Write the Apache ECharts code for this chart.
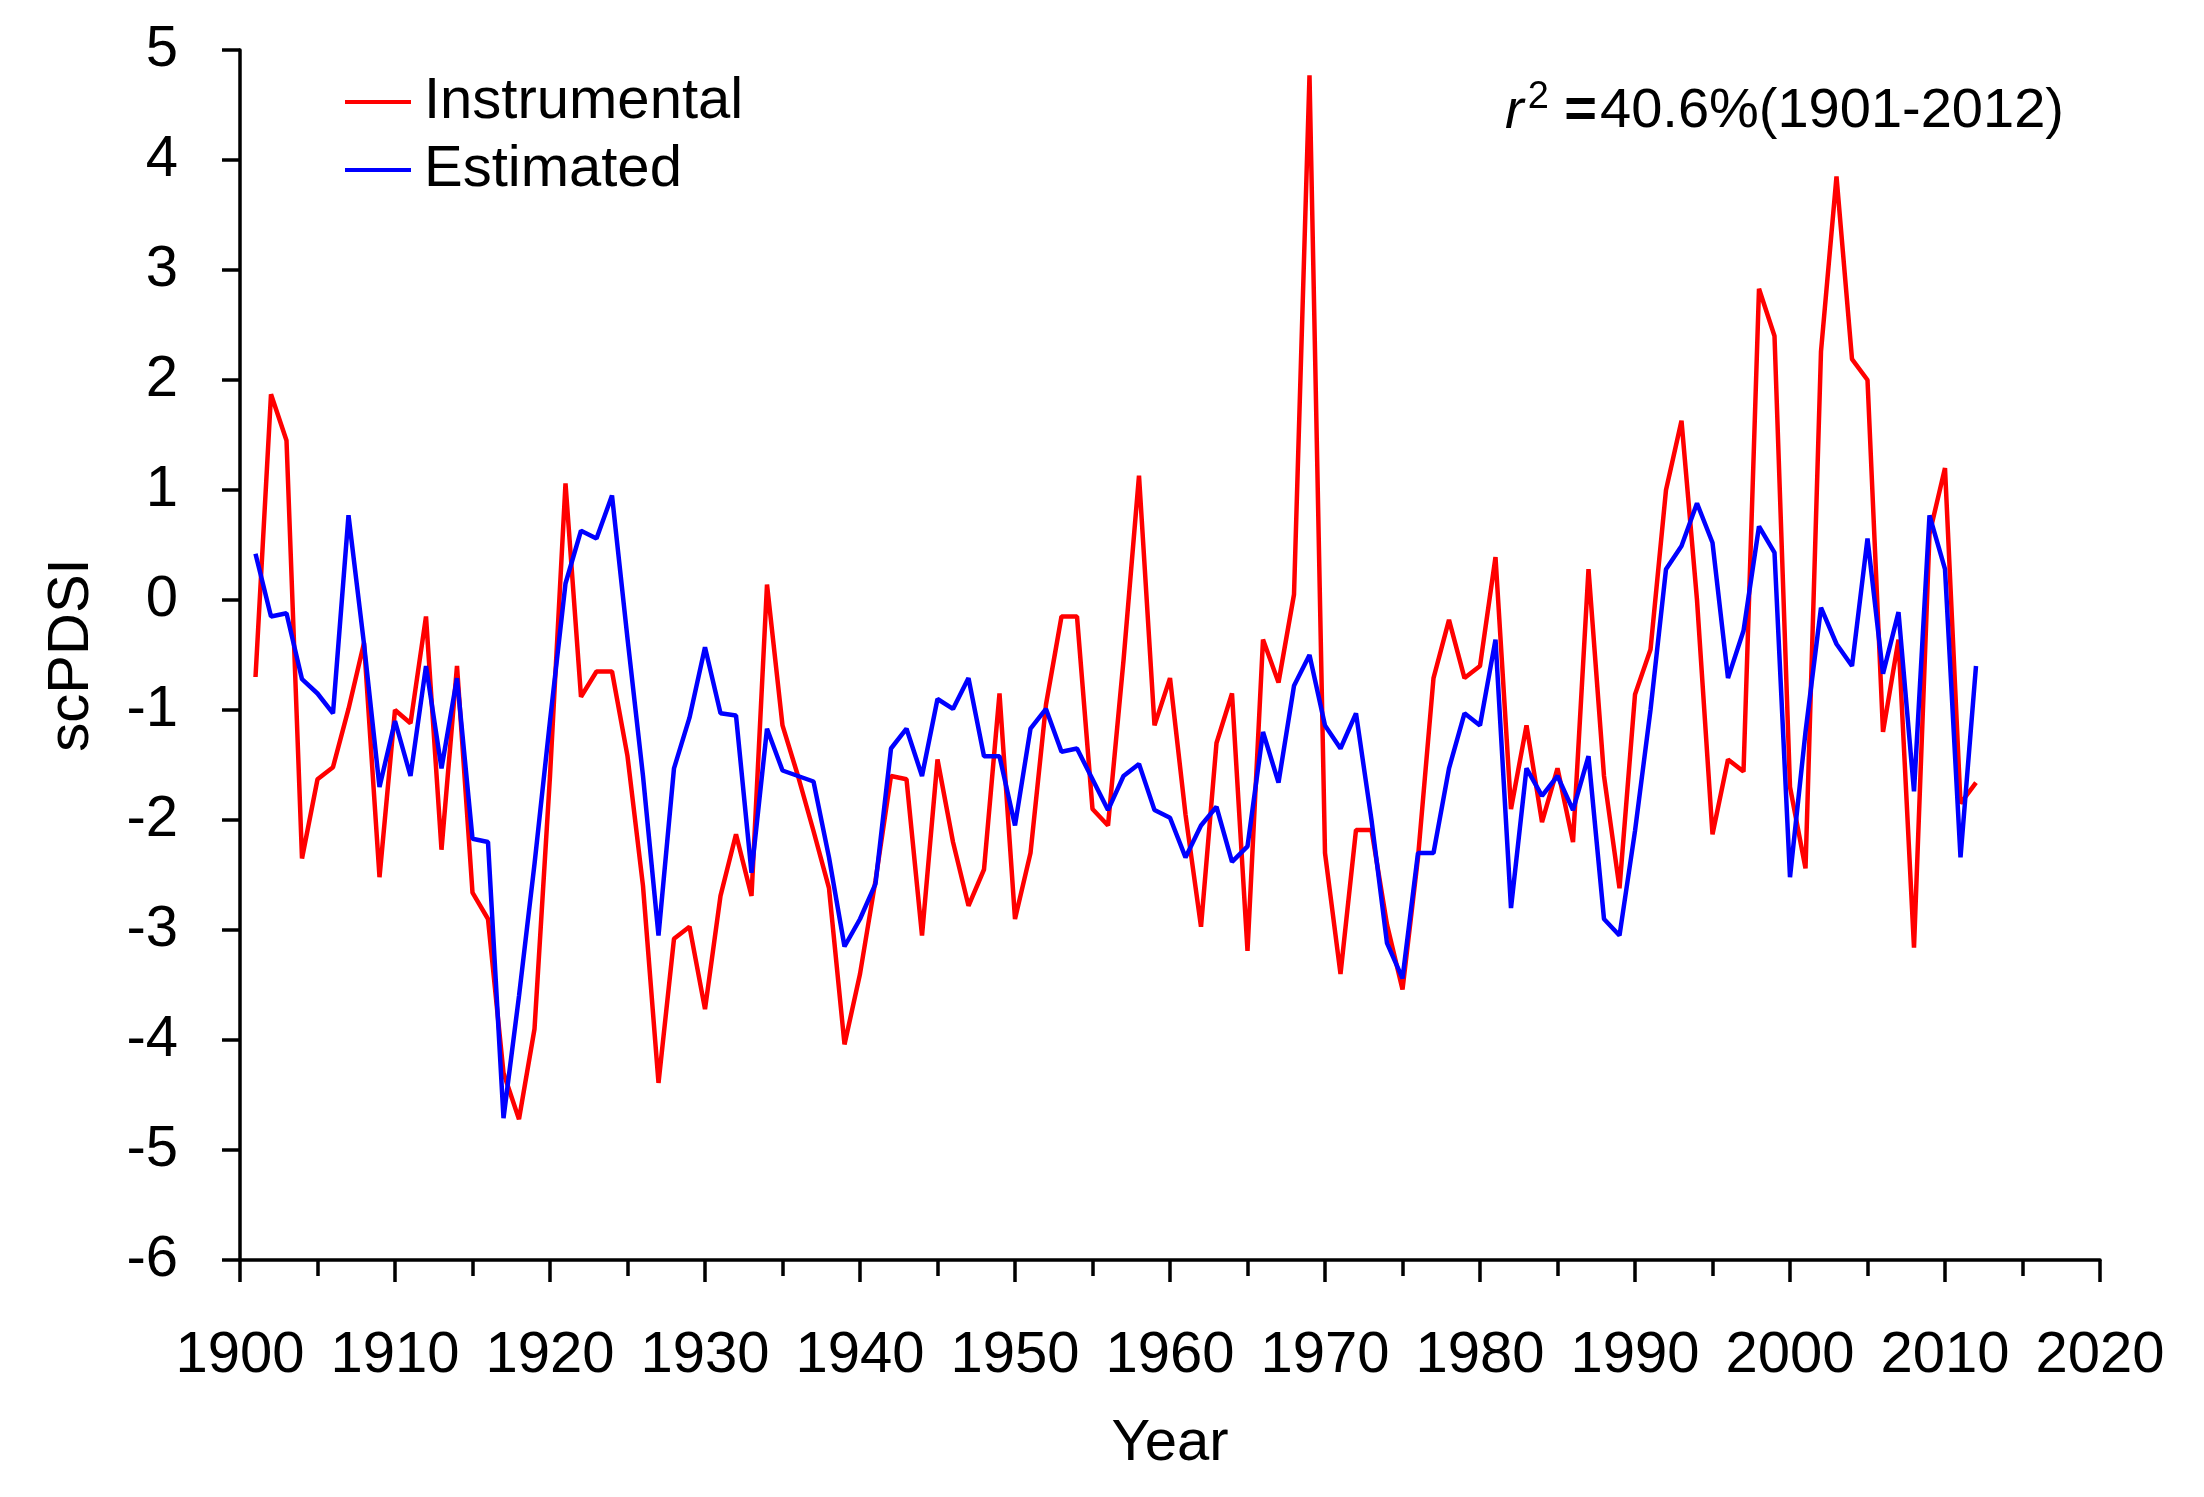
<!DOCTYPE html>
<html>
<head>
<meta charset="utf-8">
<script src="https://cdn.jsdelivr.net/npm/echarts@6/dist/echarts.min.js"></script>
<style>
html,body{margin:0;padding:0;background:#fff;}
#chart{width:2204px;height:1497px;}
</style>
</head>
<body>
<div id="chart"></div>
<script>
const startYear = 1901;
const instrumental = [
  -0.70, 1.87, 1.45, -2.35, -1.63, -1.52, -0.99, -0.39, -2.52, -1.00,
  -1.12, -0.15, -2.27, -0.60, -2.66, -2.90, -4.30, -4.72, -3.90, -1.60,
  1.06, -0.88, -0.65, -0.65, -1.42, -2.60, -4.39, -3.08, -2.97, -3.72,
  -2.69, -2.13, -2.69, 0.14, -1.14, -1.60, -2.10, -2.62, -4.04, -3.40,
  -2.55, -1.60, -1.63, -3.05, -1.45, -2.20, -2.78, -2.45, -0.85, -2.90,
  -2.30, -0.95, -0.15, -0.15, -1.90, -2.05, -0.55, 1.13, -1.14, -0.71,
  -1.95, -2.97, -1.30, -0.85, -3.19, -0.36, -0.75, 0.05, 4.77, -2.30,
  -3.40, -2.09, -2.09, -2.95, -3.54, -2.34, -0.71, -0.18, -0.71, -0.60,
  0.39, -1.90, -1.14, -2.02, -1.53, -2.20, 0.28, -1.60, -2.62, -0.86,
  -0.45, 1.00, 1.63, 0.00, -2.13, -1.45, -1.56, 2.83, 2.40, -1.70,
  -2.44, 2.26, 3.85, 2.19, 2.00, -1.20, -0.36, -3.16, 0.60, 1.20,
  -1.85, -1.66
];
const estimated = [
  0.42, -0.15, -0.12, -0.72, -0.85, -1.03, 0.77, -0.40, -1.70, -1.10,
  -1.60, -0.60, -1.53, -0.71, -2.17, -2.20, -4.71, -3.60, -2.40, -1.10,
  0.15, 0.63, 0.56, 0.95, -0.35, -1.60, -3.05, -1.53, -1.07, -0.43,
  -1.03, -1.05, -2.48, -1.17, -1.55, -1.60, -1.65, -2.34, -3.15, -2.90,
  -2.58, -1.35, -1.17, -1.60, -0.90, -0.99, -0.71, -1.42, -1.42, -2.05,
  -1.17, -0.99, -1.38, -1.35, -1.63, -1.91, -1.60, -1.49, -1.91, -1.98,
  -2.34, -2.05, -1.88, -2.38, -2.24, -1.20, -1.66, -0.78, -0.50, -1.14,
  -1.35, -1.03, -2.00, -3.12, -3.44, -2.30, -2.30, -1.53, -1.03, -1.14,
  -0.36, -2.80, -1.53, -1.78, -1.60, -1.91, -1.42, -2.90, -3.05, -2.10,
  -1.00, 0.28, 0.49, 0.88, 0.52, -0.71, -0.28, 0.67, 0.43, -2.52,
  -1.20, -0.07, -0.40, -0.60, 0.56, -0.67, -0.11, -1.74, 0.77, 0.28,
  -2.34, -0.60
];
const seriesNames = ['Instrumental', 'Estimated'];
const annotation = '40.6%(1901-2012)';

const toPairs = arr => arr.map((v, i) => [startYear + i, v]);

const FONT = '"Liberation Sans", Arial, sans-serif';
const chart = echarts.init(document.getElementById('chart'));
chart.setOption({
  backgroundColor: '#ffffff',
  animation: false,
  grid: { left: 240, right: 104, top: 50, bottom: 237, containLabel: false },
  legend: {
    orient: 'vertical',
    left: 340,
    top: 68,
    itemWidth: 66,
    itemHeight: 4,
    itemGap: 10,
    icon: 'rect',
    textStyle: { fontFamily: FONT, fontSize: 58, color: '#000', lineHeight: 58, padding: [0, 0, 0, 8] },
    data: seriesNames
  },
  xAxis: {
    type: 'value',
    min: 1900, max: 2020, interval: 10,
    name: 'Year',
    nameLocation: 'middle',
    nameGap: 155,
    nameTextStyle: { fontFamily: FONT, fontSize: 58, color: '#000' },
    axisLine: { show: true, onZero: false, lineStyle: { color: '#000', width: 3.5 } },
    axisTick: { show: true, inside: false, length: 22, lineStyle: { color: '#000', width: 3.5 } },
    minorTick: { show: true, splitNumber: 2, length: 16, lineStyle: { color: '#000', width: 3.5 } },
    splitLine: { show: false },
    minorSplitLine: { show: false },
    axisLabel: { fontFamily: FONT, fontSize: 58, color: '#000', margin: 67, formatter: v => String(v) }
  },
  yAxis: {
    type: 'value',
    min: -6, max: 5, interval: 1,
    name: 'scPDSI',
    nameLocation: 'middle',
    nameGap: 139,
    nameTextStyle: { fontFamily: FONT, fontSize: 58, color: '#000' },
    axisLine: { show: true, onZero: false, lineStyle: { color: '#000', width: 3.5 } },
    axisTick: { show: true, inside: false, length: 18, lineStyle: { color: '#000', width: 3.5 } },
    splitLine: { show: false },
    axisLabel: { fontFamily: FONT, fontSize: 58, color: '#000', margin: 62 }
  },
  graphic: [{
    type: 'text',
    x: 1505,
    y: 112,
    style: {
      text: '{i|r}{s|2}{e| =}{n|' + annotation + '}',
      verticalAlign: 'middle',
      rich: {
        i: { fontFamily: FONT, fontSize: 56, fontStyle: 'italic', fill: '#000', color: '#000' },
        s: { fontFamily: FONT, fontSize: 38, fill: '#000', color: '#000', verticalAlign: 'top', padding: [0, 0, 28, 4] },
        e: { fontFamily: FONT, fontSize: 56, fontWeight: 'bold', fill: '#000', color: '#000', padding: [0, 3, 0, 0] },
        n: { fontFamily: FONT, fontSize: 56, fill: '#000', color: '#000' }
      }
    }
  }],
  series: [
    {
      name: seriesNames[0],
      type: 'line',
      data: toPairs(instrumental),
      symbol: 'none',
      lineStyle: { color: '#ff0000', width: 4.5 },
      itemStyle: { color: '#ff0000' },
      z: 2
    },
    {
      name: seriesNames[1],
      type: 'line',
      data: toPairs(estimated),
      symbol: 'none',
      lineStyle: { color: '#0000ff', width: 4.5 },
      itemStyle: { color: '#0000ff' },
      z: 3
    }
  ]
});
</script>
</body>
</html>
